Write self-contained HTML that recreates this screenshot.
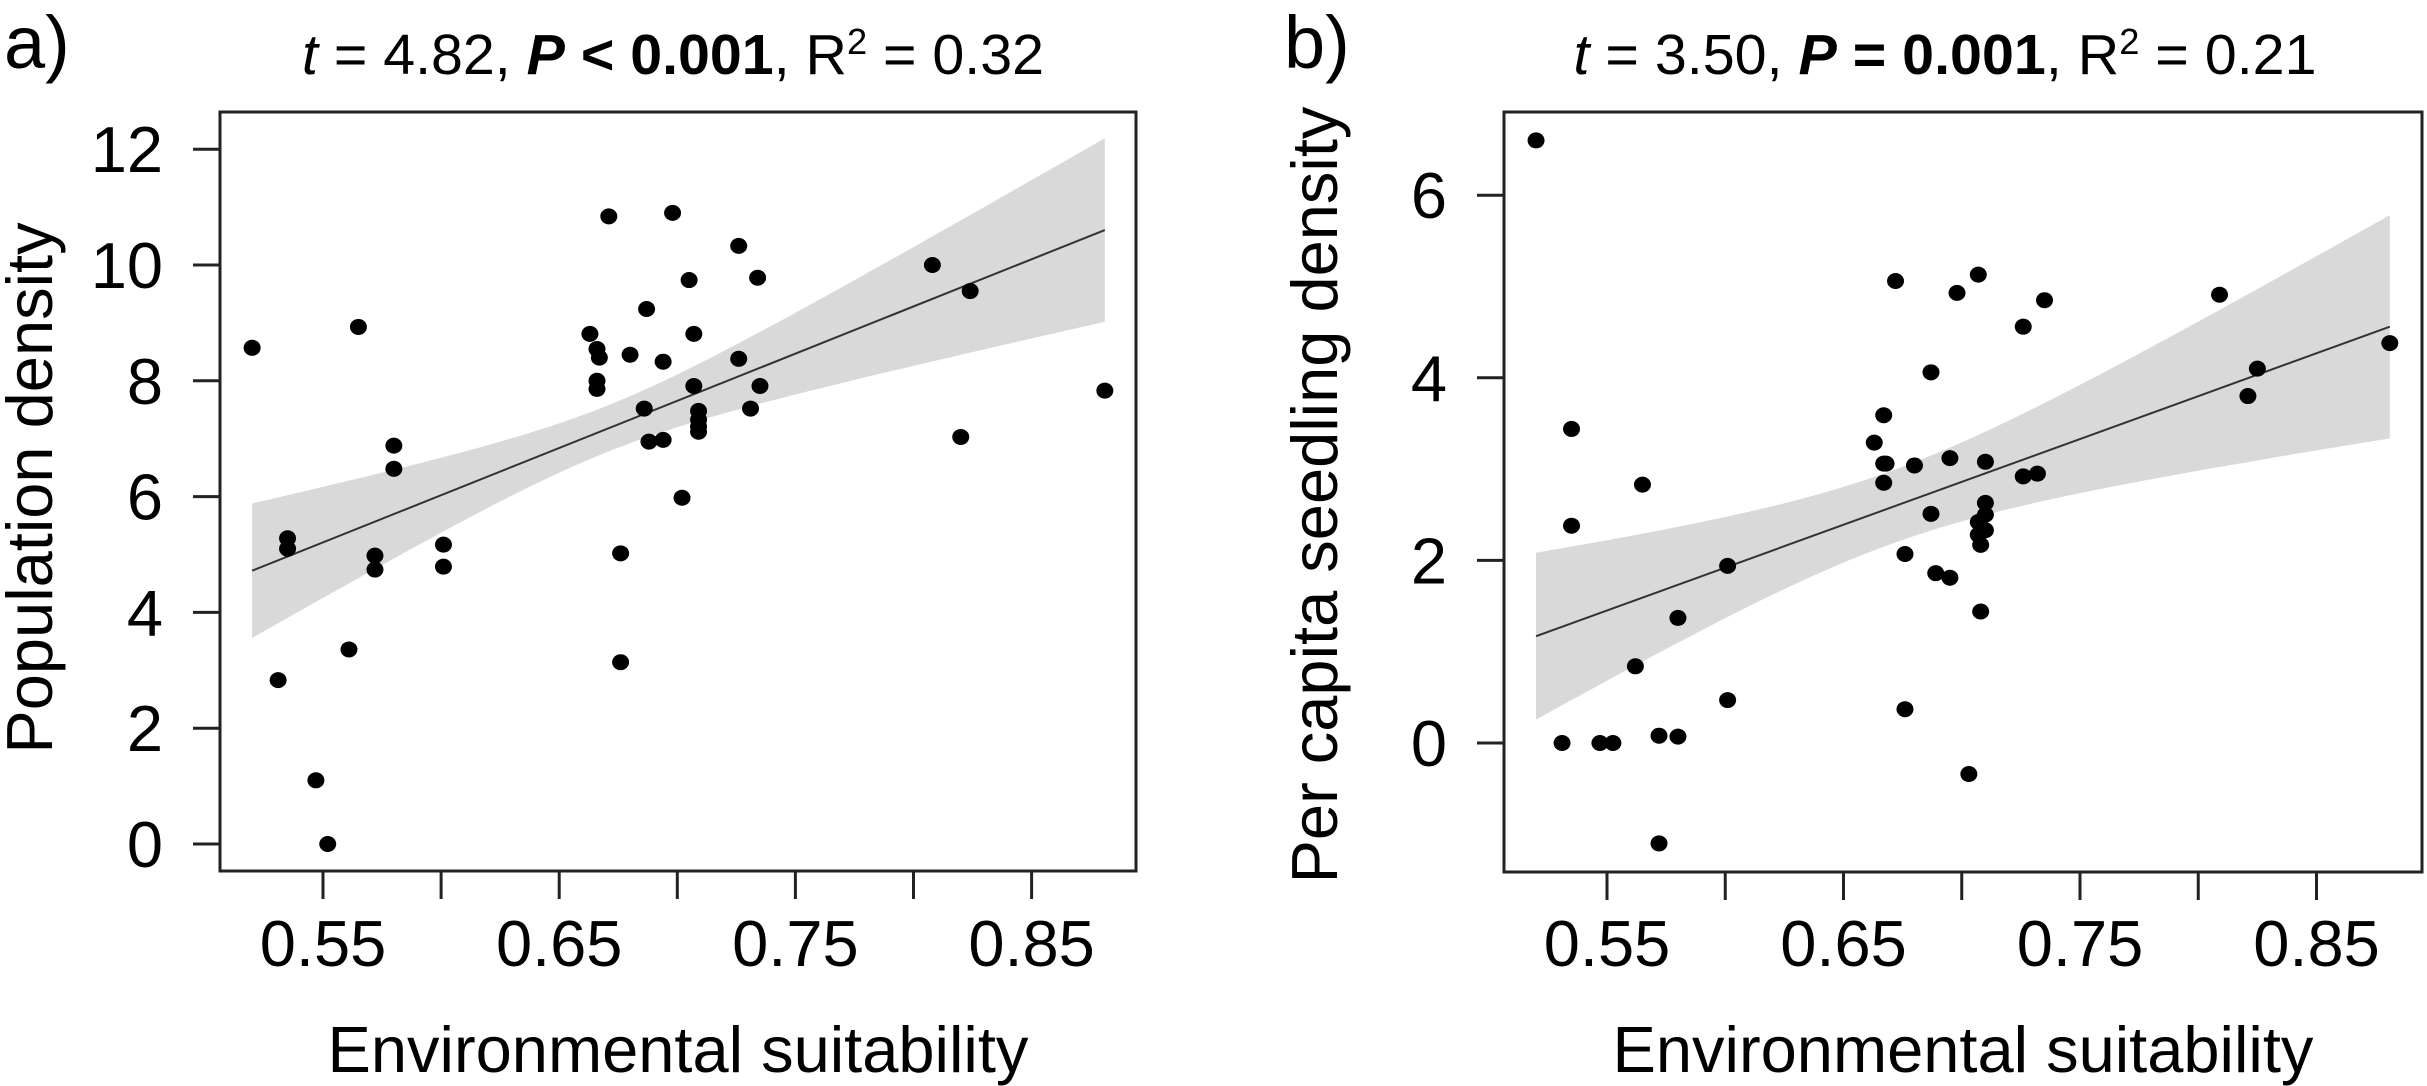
<!DOCTYPE html>
<html><head><meta charset="utf-8"><style>
html,body{margin:0;padding:0;background:#fff;}
svg{display:block;}
text{font-family:"Liberation Sans",Arial,sans-serif;fill:#000;}
</style></head><body>
<svg id="fig" width="2427" height="1086" viewBox="0 0 2427 1086" xmlns="http://www.w3.org/2000/svg"></svg>
<script>
// ---- Panel a data ----
const xA = [0.520,0.565,0.535,0.535,0.580,0.580,0.572,0.572,0.601,0.601,0.671,0.698,0.726,0.705,0.734,0.687,0.663,0.666,0.667,0.680,0.694,0.707,0.726,0.666,0.666,0.707,0.735,0.686,0.731,0.709,0.709,0.709,0.709,0.688,0.694,0.702,0.676,0.531,0.561,0.547,0.552,0.676,0.824,0.881,0.820,0.808];
const yA = [8.57,8.93,5.28,5.10,6.88,6.48,4.98,4.74,5.17,4.79,10.84,10.9,10.33,9.74,9.78,9.24,8.81,8.55,8.40,8.45,8.33,8.81,8.38,8.0,7.86,7.91,7.91,7.52,7.52,7.48,7.33,7.21,7.12,6.95,6.98,5.98,5.02,2.83,3.36,1.10,0.0,3.14,9.55,7.83,7.03,10.0];
const fitA = [-3.756, 16.3];          // intercept, slope
const bandA = [0.40, 52.8, 0.67];     // half-width at centre, curvature, centre x
const yTicksA = [0,2,4,6,8,10,12];
// ---- Panel b data ----
const xB = [0.520,0.535,0.535,0.565,0.601,0.580,0.562,0.601,0.531,0.547,0.5525,0.572,0.580,0.672,0.707,0.698,0.735,0.726,0.809,0.881,0.825,0.821,0.687,0.667,0.663,0.667,0.668,0.667,0.680,0.695,0.710,0.726,0.732,0.710,0.710,0.707,0.710,0.707,0.708,0.687,0.676,0.689,0.695,0.708,0.676,0.703,0.572];
const yB = [6.60,3.44,2.38,2.83,1.94,1.37,0.84,0.47,0.0,0.0,0.0,0.08,0.07,5.06,5.13,4.93,4.85,4.56,4.91,4.38,4.10,3.80,4.06,3.59,3.29,3.06,3.06,2.85,3.04,3.12,3.08,2.92,2.95,2.63,2.50,2.42,2.33,2.28,2.17,2.51,2.07,1.86,1.81,1.44,0.37,-0.34,-1.10];
const fitB = [-3.713, 9.39];
const bandB = [0.40, 30, 0.67];
const yTicksB = [0,2,4,6];
const xTicks = [0.55,0.60,0.65,0.70,0.75,0.80,0.85];
const xTickLabels = ["0.55","","0.65","","0.75","","0.85"];

const NS = "http://www.w3.org/2000/svg";
const svg = document.getElementById('fig');
function mk(tag, attrs, parent){
  const e = document.createElementNS(NS, tag);
  for (const k in attrs) e.setAttribute(k, attrs[k]);
  (parent||svg).appendChild(e);
  return e;
}

function panel(cfg){
  const g = mk('g', {});
  
  
  const sx = v => cfg.x055 + (v - 0.55) * cfg.pxPerX;
  const sy = v => cfg.y0 - v * cfg.pxPerY;
  const lo = Math.min(...cfg.xs), hi = Math.max(...cfg.xs);
  const fit = x => cfg.fit[0] + cfg.fit[1] * x;
  const hw = x => Math.sqrt(cfg.band[0]*cfg.band[0] + cfg.band[1]*(x-cfg.band[2])*(x-cfg.band[2]));
  // band
  let up = [], dn = [];
  for (let i = 0; i <= 60; i++) {
    const x = lo + (hi - lo) * i / 60;
    up.push(sx(x).toFixed(1) + ',' + sy(fit(x) + hw(x)).toFixed(1));
    dn.unshift(sx(x).toFixed(1) + ',' + sy(fit(x) - hw(x)).toFixed(1));
  }
  const band = mk('polygon', {points: up.concat(dn).join(' '), fill: '#d9d9d9', stroke: 'none'}, g);
  
  
  const line = mk('line', {x1: sx(lo), y1: sy(fit(lo)), x2: sx(hi), y2: sy(fit(hi)), stroke: '#333', 'stroke-width': 2}, g);
  
  
  // points
  for (let i = 0; i < cfg.xs.length; i++) {
    const c = mk('ellipse', {cx: sx(cfg.xs[i]), cy: sy(cfg.ys[i]), rx: 8.5, ry: 8, fill: '#000'}, g);
    
    
  }
  // box
  const box = mk('rect', {x: cfg.L, y: cfg.T, width: cfg.R - cfg.L, height: cfg.B - cfg.T, fill: 'none', stroke: '#222', 'stroke-width': 3}, g);
  
  
  // y ticks
  cfg.yTicks.forEach(v => {
    const t = mk('line', {x1: cfg.L - 27, y1: sy(v), x2: cfg.L, y2: sy(v), stroke: '#222', 'stroke-width': 3}, g);
    
    
    const l = mk('text', {x: cfg.L - 57, y: sy(v) + 23, 'font-size': 65, 'text-anchor': 'end'}, g);
    l.textContent = String(v);
    
    
  });
  // x ticks
  xTicks.forEach((v, i) => {
    const t = mk('line', {x1: sx(v), y1: cfg.B, x2: sx(v), y2: cfg.B + 28, stroke: '#222', 'stroke-width': 3}, g);
    
    
    if (xTickLabels[i]) {
      const l = mk('text', {x: sx(v), y: 966, 'font-size': 65, 'text-anchor': 'middle'}, g);
      l.textContent = xTickLabels[i];
      
      
    }
  });
  const xl = mk('text', {x: (cfg.L + cfg.R) / 2, y: 1072, 'font-size': 65, 'text-anchor': 'middle'}, g);
  xl.textContent = 'Environmental suitability';
  
  
  const yl = mk('text', {x: 0, y: 0, 'font-size': 65, 'text-anchor': 'middle', transform: 'translate(' + cfg.ylabX + ',' + cfg.ylabY + ') rotate(-90)'}, g);
  yl.textContent = cfg.ylab;
  
  
}

panel({name: 'panel-a', xs: xA, ys: yA, fit: fitA, band: bandA, yTicks: yTicksA,
  L: 220, R: 1136, T: 112, B: 871, x055: 323, pxPerX: 2362, y0: 844, pxPerY: 57.9,
  ylab: 'Population density', ylabX: 52, ylabY: 488});
panel({name: 'panel-b', xs: xB, ys: yB, fit: fitB, band: bandB, yTicks: yTicksB,
  L: 1504, R: 2422, T: 112, B: 872, x055: 1607, pxPerX: 2365, y0: 743, pxPerY: 91.3,
  ylab: 'Per capita seedling density', ylabX: 1337, ylabY: 495});
</script>
<svg width="0" height="0" style="position:absolute"></svg>
<div style="position:absolute;left:0;top:0;width:2427px;height:120px;pointer-events:none">
<svg width="2427" height="120" xmlns="http://www.w3.org/2000/svg">
  <text x="4" y="68" font-size="74">a)</text>
  <text x="673" y="74" font-size="57" text-anchor="middle" textLength="742" lengthAdjust="spacingAndGlyphs"><tspan font-style="italic">t</tspan> = 4.82, <tspan font-weight="bold" font-style="italic">P</tspan><tspan font-weight="bold"> &lt; 0.001</tspan>, R<tspan font-size="36" dy="-20">2</tspan><tspan dy="20"> = 0.32</tspan></text>
  <text x="1284" y="68" font-size="74">b)</text>
  <text x="1945" y="74" font-size="57" text-anchor="middle" textLength="743" lengthAdjust="spacingAndGlyphs"><tspan font-style="italic">t</tspan> = 3.50, <tspan font-weight="bold" font-style="italic">P</tspan><tspan font-weight="bold"> = 0.001</tspan>, R<tspan font-size="36" dy="-20">2</tspan><tspan dy="20"> = 0.21</tspan></text>
</svg>
</div>
</body></html>
